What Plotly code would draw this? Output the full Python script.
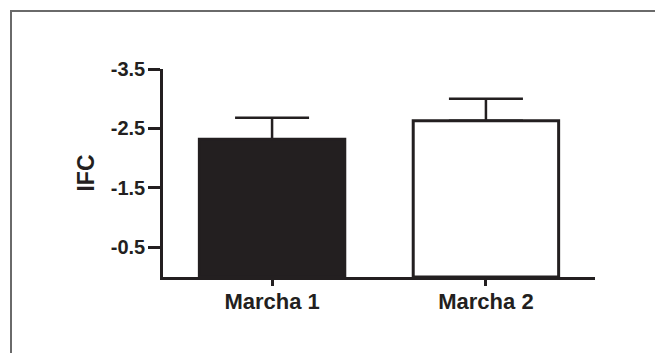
import plotly.graph_objects as go

categories = ["Marcha 1", "Marcha 2"]
means = [-2.32, -2.63]
sem = [0.36, 0.37]
bar_fill = ["#231f20", "#ffffff"]
ytick_vals = [-3.5, -2.5, -1.5, -0.5]
ytick_text = ["-3.5", "-2.5", "-1.5", "-0.5"]

ink = "#231f20"
font_family = "Liberation Sans, Arial, Helvetica, sans-serif"

fig = go.Figure()
fig.add_trace(go.Bar(
    x=categories,
    y=means,
    width=0.68,
    marker=dict(color=bar_fill, line=dict(color=ink, width=3)),
    error_y=dict(type="data", symmetric=False, array=[0, 0], arrayminus=sem,
                 color=ink, thickness=2.5, width=37),
    showlegend=False,
))

# page body has an 8px margin; the figure is laid out to compensate
OFF = 8
W, H = 663 - OFF, 353 - OFF
ml, mt = 163 - OFF, 69 - OFF
mr = W - (595 - OFF)
mb = H - (277 - OFF)
pw, ph = W - ml - mr, H - mt - mb

fig.update_layout(
    width=W, height=H,
    margin=dict(l=ml, r=mr, t=mt, b=mb),
    paper_bgcolor="white", plot_bgcolor="white",
    font=dict(family=font_family, color=ink),
    xaxis=dict(
        range=[-0.51, 1.51], showline=True, linewidth=3, linecolor=ink,
        ticks="outside", ticklen=6, tickwidth=2.5, tickcolor=ink,
        showgrid=False, zeroline=False, ticklabelstandoff=-3,
        tickfont=dict(family=font_family, size=22, color=ink, weight="bold"),
    ),
    yaxis=dict(
        range=[0, -3.5], showline=True, linewidth=2.5, linecolor=ink,
        ticks="outside", ticklen=12, tickwidth=2.5, tickcolor=ink,
        tickvals=ytick_vals, ticktext=ytick_text,
        showgrid=False, zeroline=False, ticklabelstandoff=-1,
        tickfont=dict(family=font_family, size=20, color=ink, weight="bold"),
        title=dict(text="IFC", standoff=10,
                   font=dict(family=font_family, size=23, color=ink, weight="bold")),
    ),
    shapes=[dict(
        type="rect", xref="paper", yref="paper",
        x0=(11 - OFF - ml) / pw, x1=2.0,
        y0=-1.0, y1=1 + (mt - (11 - OFF)) / ph,
        line=dict(color="#6a6a6a", width=2), fillcolor="rgba(0,0,0,0)",
        layer="below",
    )],
)

fig.write_html("out.html")
